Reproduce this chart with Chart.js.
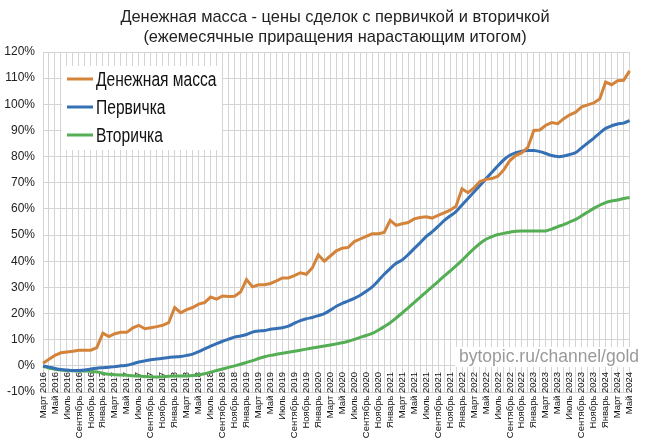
<!DOCTYPE html>
<html>
<head>
<meta charset="utf-8">
<script src="https://cdn.jsdelivr.net/npm/chart.js@4"></script>
<style>
html,body{margin:0;padding:0;background:#fff;}
#wrap{width:647px;height:442px;position:relative;}
</style>
</head>
<body>
<div id="wrap"><canvas id="c" width="647" height="442"></canvas></div>
<script>
const months = ["Январь","Февраль","Март","Апрель","Май","Июнь","Июль","Август","Сентябрь","Октябрь","Ноябрь","Декабрь"];
const categories = [];
for (let y = 2016; y <= 2024; y++) {
  for (let m = 0; m < 12; m++) {
    if (y === 2016 && m < 2) continue;
    if (y === 2024 && m > 4) continue;
    categories.push(months[m] + " " + y);
  }
}
const titleLines = ["Денежная масса - цены сделок с первичкой и вторичкой", "(ежемесячные приращения нарастающим итогом)"];
const seriesNames = ["Денежная масса", "Первичка", "Вторичка"];
const moneySupply = [1.0,2.5,4.0,5.0,5.3,5.6,6.0,6.0,6.0,7.0,
 12.5,11.2,12.3,12.8,12.8,14.5,15.5,14.2,14.6,15.0,15.5,16.5,
 22.3,20.3,21.5,22.3,23.6,24.2,26.3,25.5,26.7,26.5,26.6,28.2,
 33.0,30.2,31.0,31.0,31.5,32.5,33.6,33.6,34.5,35.6,35.0,37.5,
 42.4,40.0,42.0,44.0,45.0,45.3,47.5,48.5,49.5,50.5,50.5,51.0,
 55.6,53.7,54.3,54.8,56.2,56.7,57.0,56.5,57.5,58.5,59.5,61.0,
 67.7,66.2,68.0,70.5,71.3,71.6,72.5,75.0,78.5,80.5,81.5,83.5,
 90.0,90.2,92.0,93.0,92.6,94.5,96.0,97.0,99.0,99.8,100.5,102.0,
 108.5,107.5,109.0,109.2,112.8];
const primary = [0.0,-0.5,-1.0,-1.4,-1.6,-1.8,-1.8,-1.6,-1.2,-0.9,
 -0.7,-0.5,-0.3,0.0,0.2,0.8,1.5,1.9,2.3,2.6,2.9,3.2,
 3.4,3.6,4.0,4.5,5.4,6.5,7.5,8.5,9.4,10.2,11.0,11.4,
 12.0,12.9,13.3,13.5,14.0,14.3,14.6,15.2,16.3,17.3,18.0,18.5,
 19.2,20.0,21.3,22.8,23.9,24.8,25.8,27.0,28.5,30.2,32.5,35.0,
 37.2,39.2,40.5,42.5,44.8,47.0,49.4,51.2,53.3,55.5,57.3,59.0,
 61.5,64.0,66.5,69.0,71.5,74.0,76.5,78.8,80.5,81.5,82.1,82.3,
 82.3,81.9,81.2,80.4,80.0,80.2,80.8,81.6,83.4,85.2,87.0,89.0,
 90.8,91.8,92.5,92.8,93.8];
const secondary = [-0.2,-0.8,-1.3,-1.6,-1.8,-1.9,-2.0,-2.0,-2.1,-2.3,
 -2.8,-3.2,-3.4,-3.5,-3.6,-3.8,-3.9,-4.1,-4.2,-4.3,-4.2,-4.0,
 -3.9,-3.9,-3.9,-3.7,-3.4,-3.0,-2.4,-1.8,-1.2,-0.6,0.0,0.6,
 1.3,2.0,2.8,3.5,4.0,4.4,4.8,5.2,5.6,6.0,6.4,6.8,
 7.2,7.6,8.0,8.4,8.8,9.4,10.1,10.9,11.6,12.4,13.6,15.0,
 16.5,18.3,20.2,22.2,24.2,26.2,28.2,30.2,32.2,34.3,36.2,38.2,
 40.3,42.6,44.8,46.8,48.4,49.4,50.2,50.7,51.1,51.5,51.6,51.6,
 51.6,51.6,51.6,52.3,53.2,54.0,55.0,56.0,57.4,58.8,60.2,61.4,
 62.4,63.0,63.4,64.0,64.4];
const yMin = -10, yMax = 120, yStep = 10;
const watermark = "bytopic.ru/channel/gold";
const colors = ["#D4843A", "#3570B5", "#54AE54"];

const SANS = "'Liberation Sans',Arial,sans-serif";

const decor = {
  id: 'decor',
  afterDraw(chart) {
    const ctx = chart.ctx;
    ctx.save();
    // title
    ctx.fillStyle = '#222';
    ctx.font = '16.4px ' + SANS;
    ctx.textAlign = 'center';
    ctx.textBaseline = 'middle';
    ctx.fillText(titleLines[0], 335, 17);
    ctx.fillText(titleLines[1], 335, 37);
    // legend
    ctx.fillStyle = '#fff';
    ctx.fillRect(62, 66, 160, 84);
    ctx.textAlign = 'left';
    chart.data.datasets.forEach((ds, i) => {
      const y = 79 + i * 28;
      ctx.strokeStyle = ds.borderColor;
      ctx.lineWidth = 3;
      ctx.beginPath();
      ctx.moveTo(67, y); ctx.lineTo(93, y);
      ctx.stroke();
      ctx.save();
      ctx.translate(96, y + 1);
      ctx.scale(0.78, 1);
      ctx.font = '20px ' + SANS;
      ctx.fillStyle = '#111';
      ctx.fillText(ds.label, 0, 0);
      ctx.restore();
    });
    // watermark
    ctx.font = '17.5px ' + SANS;
    const w = ctx.measureText(watermark).width;
    ctx.fillStyle = '#fff';
    ctx.fillRect(638 - w - 3, 347, w + 4, 20);
    ctx.fillStyle = '#9a9a9a';
    ctx.textAlign = 'right';
    ctx.fillText(watermark, 639, 357);
    ctx.restore();
  }
};

new Chart(document.getElementById('c'), {
  type: 'line',
  data: {
    labels: categories,
    datasets: [
      {label: seriesNames[0], data: moneySupply, borderColor: colors[0], borderWidth: 3, pointRadius: 0, tension: 0, fill: false},
      {label: seriesNames[1], data: primary, borderColor: colors[1], borderWidth: 3, pointRadius: 0, tension: 0.3, fill: false},
      {label: seriesNames[2], data: secondary, borderColor: colors[2], borderWidth: 3, pointRadius: 0, tension: 0.3, fill: false}
    ]
  },
  options: {
    responsive: false,
    animation: false,
    devicePixelRatio: 1,
    layout: {padding: {left: 0, right: 9, top: 52, bottom: 50}},
    plugins: {legend: {display: false}, title: {display: false}, tooltip: {enabled: false}},
    scales: {
      x: {
        position: {y: 0},
        grid: {color: '#d4d4d4', lineWidth: 1, drawTicks: false},
        border: {display: false},
        ticks: {
          autoSkip: false, minRotation: 90, maxRotation: 90, padding: 6,
          color: '#111', font: {size: 9.5, family: SANS},
          callback: function(v, i) { return i % 2 === 0 ? this.getLabelForValue(v) : ''; }
        }
      },
      y: {
        min: yMin, max: yMax,
        grid: {color: '#d4d4d4', lineWidth: 1, drawTicks: false},
        border: {display: false},
        ticks: {stepSize: yStep, padding: 8, color: '#222', font: {size: 12, family: SANS},
          callback: v => v + '%'},
        afterFit(scale) { scale.width = 43; }
      }
    }
  },
  plugins: [decor]
});
</script>
</body>
</html>
